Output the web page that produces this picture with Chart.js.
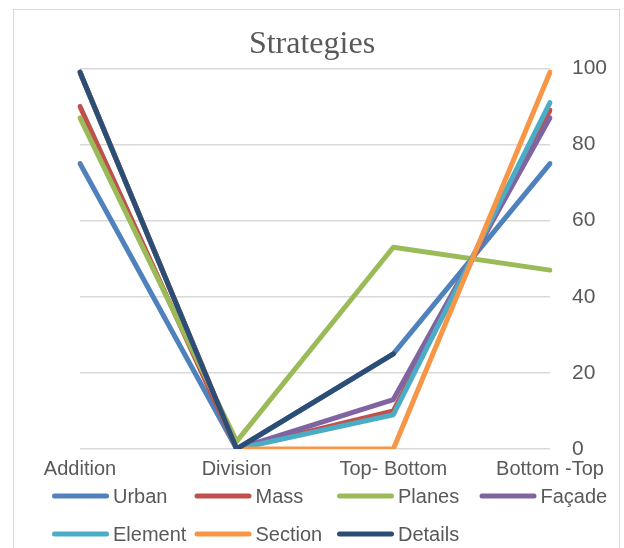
<!DOCTYPE html>
<html>
<head>
<meta charset="utf-8">
<script src="https://cdn.jsdelivr.net/npm/chart.js@4"></script>
<style>
  html, body { margin: 0; padding: 0; background: #fff; }
  #wrap { width: 624px; height: 548px; position: relative; }
</style>
</head>
<body>
<div id="wrap"><canvas id="strategies" width="624" height="548"></canvas></div>
<script>
const categories = ['Addition', 'Division', 'Top- Bottom', 'Bottom -Top'];
const seriesNames = ['Urban', 'Mass', 'Planes', 'Façade', 'Element', 'Section', 'Details'];
const urban   = [75, 0, 25, 75];
const mass    = [90, 0, 10, 89];
const planes  = [87, 2, 53, 47];
const facade  = [99, 0, 13, 87];
const element = [99, 0, 9, 91];
const section = [99, 0, 0, 99];
const details = [99, 0, 25, null];
const yTicks = [0, 20, 40, 60, 80, 100];

const colors = ['#4f81bd', '#c0504d', '#9bbb59', '#8064a2', '#4bacc6', '#f79646', '#2c4d75'];
const values = [urban, mass, planes, facade, element, section, details];

const FONT = "'Liberation Sans', Arial, sans-serif";

// outer frame + two-row legend laid out in equal columns
const frameLegend = {
  id: 'frameLegend',
  beforeDraw(chart) {
    const ctx = chart.ctx;
    ctx.save();
    ctx.strokeStyle = '#d9d9d9';
    ctx.lineWidth = 1;
    ctx.strokeRect(13.5, 9.5, 606, 560);
    ctx.restore();
  },
  afterDraw(chart) {
    const ctx = chart.ctx;
    const colW = 142.5, x0 = 52, rows = [496, 534], sample = 57;
    ctx.save();
    ctx.font = '20px ' + FONT;
    ctx.textBaseline = 'middle';
    ctx.fillStyle = '#595959';
    chart.data.datasets.forEach((ds, i) => {
      const x = x0 + (i % 4) * colW;
      const y = rows[Math.floor(i / 4)];
      ctx.strokeStyle = ds.borderColor;
      ctx.lineWidth = 5;
      ctx.lineCap = 'round';
      ctx.beginPath();
      ctx.moveTo(x + 2.5, y);
      ctx.lineTo(x + sample - 2.5, y);
      ctx.stroke();
      ctx.fillText(ds.label, x + sample + 4, y + 1);
    });
    ctx.restore();
  }
};

new Chart(document.getElementById('strategies'), {
  type: 'line',
  data: {
    labels: categories,
    datasets: seriesNames.map((name, i) => ({
      label: name,
      data: values[i],
      borderColor: colors[i],
      backgroundColor: colors[i],
      borderWidth: 5,
      borderCapStyle: 'round',
      borderJoinStyle: 'round',
      pointRadius: 0,
      tension: 0,
      order: seriesNames.length - i
    }))
  },
  options: {
    responsive: false,
    animation: false,
    layout: { padding: { left: 16, right: 16, top: 8, bottom: 67 } },
    plugins: {
      legend: { display: false },
      tooltip: { enabled: false },
      title: {
        display: true,
        text: 'Strategies',
        color: '#595959',
        font: { family: "'Liberation Serif', 'Times New Roman', serif", size: 32, weight: 'normal' },
        padding: { top: 17, bottom: 5 }
      }
    },
    scales: {
      x: {
        offset: false,
        grid: { display: false },
        border: { display: false },
        // keep the plot starting at x=80 while the title stays centred on the canvas
        afterFit(axis) { axis.paddingLeft = 80; axis.paddingRight = 0; },
        ticks: { color: '#595959', font: { family: FONT, size: 20 }, padding: 0, maxRotation: 0, autoSkip: false }
      },
      y: {
        position: 'right',
        min: 0,
        max: 100,
        afterBuildTicks(axis) { axis.ticks = yTicks.map(v => ({ value: v })); },
        afterFit(axis) { axis.width = 58; },
        grid: { color: '#d9d9d9', lineWidth: 1.5, drawTicks: false },
        border: { display: false },
        ticks: { color: '#595959', font: { family: FONT, size: 21 }, padding: 22 }
      }
    }
  },
  plugins: [frameLegend]
});
</script>
</body>
</html>
